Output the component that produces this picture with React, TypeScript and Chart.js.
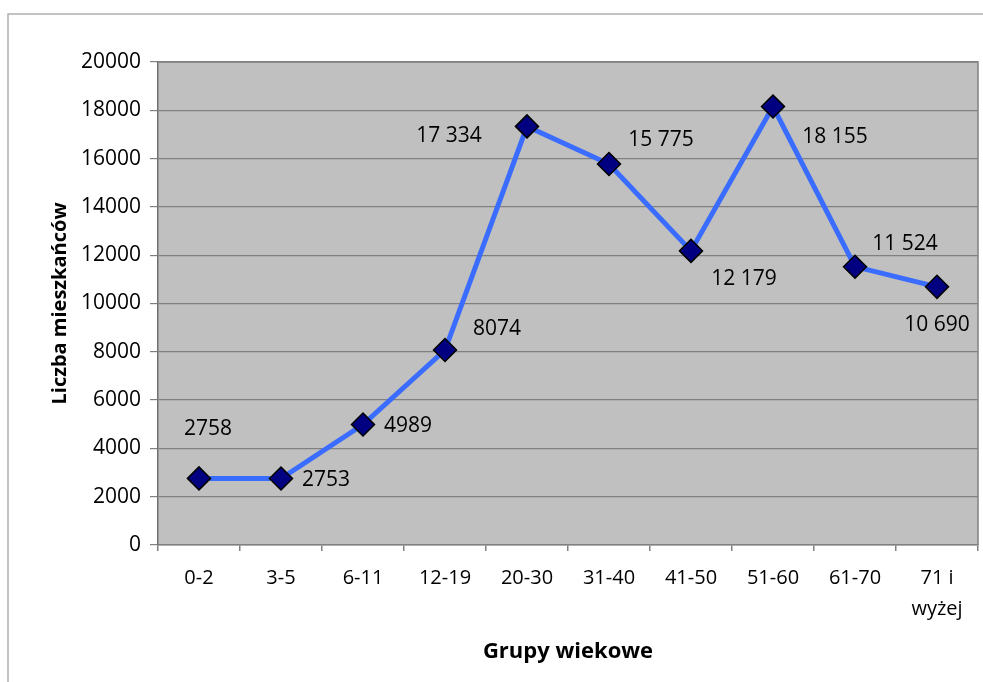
import React, { useEffect, useRef } from "react";
import { Chart, registerables } from "chart.js";

Chart.register(...registerables);

const categories: (string | string[])[] = ["0-2", "3-5", "6-11", "12-19", "20-30", "31-40", "41-50", "51-60", "61-70", ["71 i", "wyżej"]];
const residents: number[] = [2758, 2753, 4989, 8074, 17334, 15775, 12179, 18155, 11524, 10690];
const yTitle = "Liczba mieszkańców";
const xTitle = "Grupy wiekowe";

// label placement (pixel offsets from each point) – styling only
const labelOffsets: [number, number][] = [
  [9, -49], [45, 2], [45, 1], [52, -21], [-78, 10],
  [52, -24], [53, 28], [62, 30], [50, -23], [0, 38],
];

const fmt = (n: number) => (n >= 10000 ? String(n).replace(/\B(?=(\d{3})+(?!\d))/g, " ") : String(n));

const FONT = "'Open Sans', 'Noto Sans', sans-serif";

const framePlugin = {
  id: "frame",
  beforeDraw(chart: any) {
    const { ctx, chartArea } = chart;
    ctx.save();
    ctx.fillStyle = "#ffffff";
    ctx.fillRect(0, 0, chart.width, chart.height);
    ctx.strokeStyle = "#b0b0b0";
    ctx.lineWidth = 1.5;
    ctx.beginPath();
    ctx.moveTo(8, chart.height);
    ctx.lineTo(8, 14);
    ctx.lineTo(chart.width, 14);
    ctx.stroke();
    ctx.fillStyle = "#c0c0c0";
    ctx.fillRect(chartArea.left, chartArea.top, chartArea.right - chartArea.left, chartArea.bottom - chartArea.top);
    ctx.restore();
  },
  afterDraw(chart: any) {
    const { ctx, chartArea } = chart;
    ctx.save();
    ctx.strokeStyle = "#808080";
    ctx.lineWidth = 1.5;
    ctx.beginPath();
    ctx.moveTo(chartArea.left, chartArea.top);
    ctx.lineTo(chartArea.right, chartArea.top);
    ctx.lineTo(chartArea.right, chartArea.bottom);
    ctx.stroke();
    ctx.restore();
  },
};

const labelPlugin = {
  id: "pointLabels",
  afterDatasetsDraw(chart: any) {
    const { ctx } = chart;
    const meta = chart.getDatasetMeta(0);
    ctx.save();
    ctx.font = `21px ${FONT}`;
    ctx.fillStyle = "#000";
    ctx.textAlign = "center";
    ctx.textBaseline = "middle";
    meta.data.forEach((pt: any, i: number) => {
      const [dx, dy] = labelOffsets[i];
      ctx.fillText(fmt(residents[i]), pt.x + dx, pt.y + dy);
    });
    ctx.restore();
  },
};

export default function App() {
  const ref = useRef<HTMLCanvasElement | null>(null);
  useEffect(() => {
    if (!ref.current) return;
    const chart = new Chart(ref.current, {
      type: "line",
      data: {
        labels: categories,
        datasets: [
          {
            data: residents,
            borderColor: "#3a6cff",
            borderWidth: 5,
            pointStyle: "rectRot",
            pointRadius: 11.5,
            pointBackgroundColor: "#000080",
            pointBorderColor: "#000000",
            pointBorderWidth: 1.5,
            tension: 0,
          },
        ],
      },
      options: {
        animation: false,
        responsive: false,
        layout: { autoPadding: false, padding: { left: 8, right: 5, top: 62, bottom: 0 } },
        plugins: { legend: { display: false }, tooltip: { enabled: false } },
        scales: {
          x: {
            offset: true,
            grid: { display: true, drawOnChartArea: false, offset: true, tickLength: 6, color: "#808080", lineWidth: 1.5 },
            border: { display: true, color: "#808080", width: 1.5 },
            ticks: { color: "#000", autoSkip: false, maxRotation: 0, padding: 12, font: { family: FONT, size: 20, lineHeight: 1.55 } },
            title: { display: true, text: xTitle, color: "#000", font: { family: FONT, size: 22, weight: "bold" }, padding: { top: 0, bottom: 17 } },
            afterFit: (s: any) => { s.height = 137; s.paddingLeft = 0; s.paddingRight = 0; },
          },
          y: {
            min: 0,
            max: 20000,
            ticks: { stepSize: 2000, color: "#000", padding: 9, font: { family: FONT, size: 21 }, callback: (v: any) => String(v) },
            grid: { color: "#808080", tickLength: 8, lineWidth: 1.2 },
            border: { display: true, color: "#707070", width: 1.5 },
            title: { display: true, text: yTitle, color: "#000", font: { family: FONT, size: 20, weight: "bold" }, padding: { top: 40, bottom: 0 } },
            afterFit: (s: any) => { s.width = 150; s.paddingTop = 0; s.paddingBottom = 0; },
          },
        },
      },
      plugins: [framePlugin, labelPlugin],
    });
    return () => chart.destroy();
  }, []);
  return (
    <div style={{ position: "fixed", left: 0, top: 0, width: 983, height: 682 }}>
      <canvas ref={ref} width={983} height={682} style={{ width: 983, height: 682, display: "block" }} />
    </div>
  );
}
